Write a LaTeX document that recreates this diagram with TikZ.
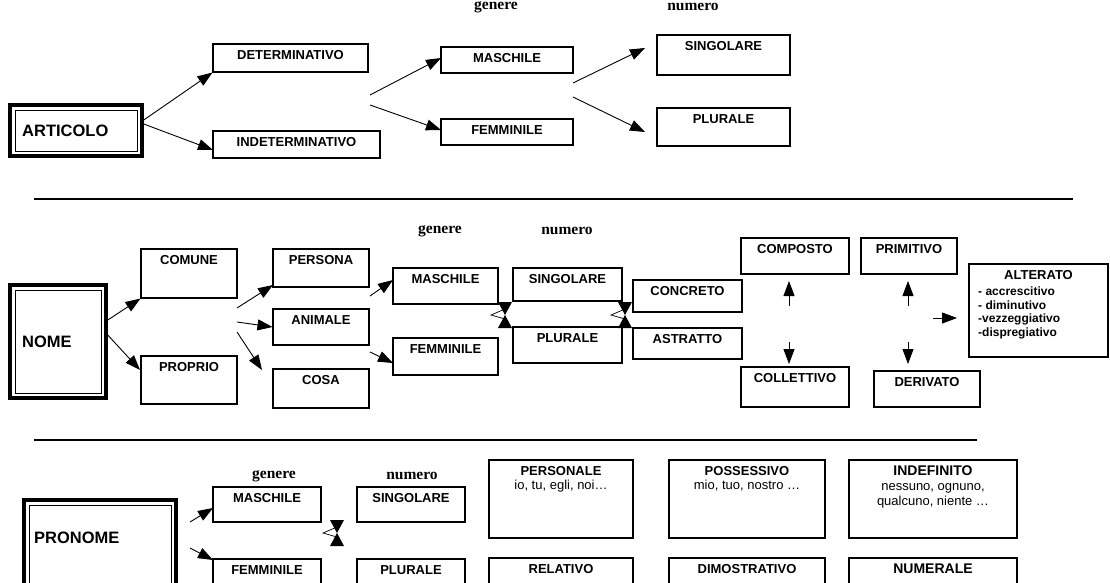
\documentclass[tikz,border=0pt]{standalone}
\usepackage{fontspec}
\setmainfont{Liberation Sans}
\newfontfamily\tms{Liberation Serif}
\usetikzlibrary{arrows.meta,calc}
\tikzset{
  bx/.style={draw,line width=1.1pt,inner sep=0pt},
  lab/.style={anchor=north,inner sep=0pt,font=\fontsize{13}{15.5}\selectfont\bfseries,align=center},
  hd/.style={inner sep=0pt,font=\tms\fontsize{15.5}{17}\selectfont\bfseries},
  ar/.style={-{Triangle[length=15pt,width=11pt]},line width=0.9pt},
  sep/.style={line width=1.5pt}
}
\newcommand{\bx}[6]{%
  \node[bx,minimum width={#4-#2},minimum height={#5-#3}] (#1) at ({(#2+#4)/2},{(#3+#5)/2}) {};
  \node[lab] (#1t) at ({(#2+#4)/2},{#3+6}) {#6};}
\newcommand{\dbx}[6]{%
  \node[draw,line width=3.5pt,minimum width={#4-#2},minimum height={#5-#3},inner sep=0pt] (#1) at ({(#2+#4)/2},{(#3+#5)/2}) {};
  \node[draw,line width=1pt,minimum width={#4-#2-10},minimum height={#5-#3-10},inner sep=0pt] (#1i) at ({(#2+#4)/2},{(#3+#5)/2}) {};
  \node[anchor=west,inner sep=0pt,font=\fontsize{16.5}{18}\selectfont\bfseries] (#1t) at ({#2+12},{(#3+#5)/2}) {#6};}
\newcommand{\btie}[3]{%
  \coordinate (#1) at (#2,#3);
  \fill (#1) -- ++(-7,-13) -- ++(14,0) -- cycle;
  \fill (#1) -- ++(-7,13) -- ++(14,0) -- cycle;
  \draw[line width=0.7pt] ($(#1)+(0,-6)$) -- ++(-14,6) -- ++(14,4);}
\begin{document}
\begin{tikzpicture}[x=1pt,y=-1pt]
\useasboundingbox (0,0) rectangle (1110,582);
% ROW 1
\dbx{art}{10}{105}{142}{156}{ARTICOLO}
\bx{det}{213}{44}{368}{72}{DETERMINATIVO}
\bx{ind}{213}{131}{380}{158}{INDETERMINATIVO}
\bx{m1}{441}{47}{573}{73}{MASCHILE}
\bx{f1}{441}{119}{573}{145}{FEMMINILE}
\bx{s1}{657}{35}{790}{75}{SINGOLARE}
\bx{p1}{657}{108}{790}{146}{PLURALE}
\node[hd] (g1) at (496,7) {genere};
\node[hd] (n1) at (693,7) {numero};
\draw[ar] (art.east |- 0,120) -- (det.south west);
\draw[ar] (art.east |- 0,124) -- (213,150);
\coordinate (a1) at (370,95); \coordinate (a2) at (370,105);
\draw[ar] (a1) -- (441,58);
\draw[ar] (a2) -- (441,130);
\coordinate (b1) at (573,83); \coordinate (b2) at (573,97);
\draw[ar] (b1) -- (645,48);
\draw[ar] (b2) -- (645,132);
\coordinate (l1a) at (34,199); \coordinate (l1b) at (1073,199);
\draw[sep] (l1a) -- (l1b);
% ROW 2
\dbx{nome}{10}{285}{106}{398}{NOME}
\bx{com}{141}{249}{237}{298}{COMUNE}
\bx{pro}{141}{356}{237}{404}{PROPRIO}
\bx{per}{273}{249}{369}{287}{PERSONA}
\bx{ani}{273}{309}{369}{345}{ANIMALE}
\bx{cos}{273}{369}{369}{408}{COSA}
\bx{m2}{393}{268}{498}{304}{MASCHILE}
\bx{f2}{393}{338}{498}{375}{FEMMINILE}
\bx{s2}{513}{268}{622}{301}{SINGOLARE}
\bx{p2}{513}{327}{622}{363}{PLURALE}
\bx{con}{633}{280}{742}{312}{CONCRETO}
\bx{ast}{633}{328}{742}{359}{ASTRATTO}
\bx{cmp}{741}{238}{849}{274}{COMPOSTO}
\bx{pri}{861}{238}{957}{274}{PRIMITIVO}
\bx{col}{741}{367}{849}{407}{COLLETTIVO}
\bx{der}{874}{371}{980}{407}{DERIVATO}
\node[bx,minimum width=139,minimum height=93] (alt) at (1038.5,310.5) {};
\node[lab] (altt) at (1038.5,270) {ALTERATO};
\node[anchor=north west,inner sep=0pt,align=left,font=\fontsize{12}{13.5}\selectfont\bfseries] (altl) at (978,287) {- accrescitivo\\- diminutivo\\-vezzeggiativo\\-dispregiativo};
\node[hd] (g2) at (440,231) {genere};
\node[hd] (n2) at (567,231) {numero};
\draw[ar] (nome.east |- 0,320) -- (com.south west);
\draw[ar] (nome.east |- 0,335) -- (140,370);
\coordinate (c1) at (237,308); \coordinate (c2) at (237,322); \coordinate (c3) at (237,332);
\draw[ar] (c1) -- (273,285);
\draw[ar] (c2) -- (ani.west);
\draw[ar] (c3) -- (262,370);
\coordinate (d1) at (370,296); \coordinate (d2) at (370,352);
\draw[ar] (d1) -- (393,280);
\draw[ar] (d2) -- (393,363);
\btie{bt1}{505}{315}
\btie{bt2}{625}{315}
\coordinate (u1) at (789,306); \coordinate (u2) at (908,306);
\coordinate (v1) at (789,342); \coordinate (v2) at (908,342);
\draw[ar] (u1) -- (789,281);
\draw[ar] (u2) -- (908,281);
\draw[ar] (v1) -- (789,364);
\draw[ar] (v2) -- (908,364);
\coordinate (w) at (933,318);
\draw[ar] (w) -- (957,318);
\coordinate (l2a) at (34,440); \coordinate (l2b) at (977,440);
\draw[sep] (l2a) -- (l2b);
% ROW 3
\node[draw,line width=3.5pt,minimum width=152,minimum height=100,inner sep=0pt] (pr) at (100,550) {};
\node[draw,line width=1pt,minimum width=142,minimum height=90,inner sep=0pt] (pri2) at (100,550) {};
\node[anchor=west,inner sep=0pt,font=\fontsize{16.5}{18}\selectfont\bfseries] (prt) at (34,538) {PRONOME};
\bx{m3}{213}{487}{321}{522}{MASCHILE}
\bx{f3}{213}{559}{321}{600}{FEMMINILE}
\bx{s3}{357}{487}{465}{522}{SINGOLARE}
\bx{p3}{357}{559}{465}{600}{PLURALE}
\node[hd] (g3) at (274,476) {genere};
\node[hd] (n3) at (412,476) {numero};
\bx{pers}{489}{460}{633}{538}{PERSONALE\\[-1pt]\mdseries io, tu, egli, noi…}
\bx{poss}{669}{460}{825}{538}{POSSESSIVO\\[-1pt]\mdseries mio, tuo, nostro …}
\bx{inde}{849}{460}{1017}{538}{{\fontsize{14}{16}\selectfont INDEFINITO}\\[-1pt]\mdseries nessuno, ognuno,\\\mdseries qualcuno, niente …}
\bx{rel}{489}{558}{633}{600}{RELATIVO}
\bx{dim}{669}{558}{825}{600}{DIMOSTRATIVO}
\bx{num}{849}{558}{1017}{600}{{\fontsize{14}{16}\selectfont NUMERALE}}
\coordinate (e1) at (190,522); \coordinate (e2) at (190,548);
\draw[ar] (e1) -- (213,508);
\draw[ar] (e2) -- (213,560);
\btie{bt3}{337}{533}
\end{tikzpicture}
\end{document}
